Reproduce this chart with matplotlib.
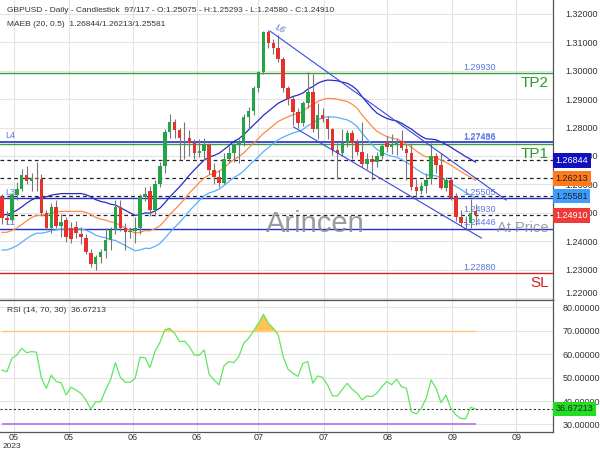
import numpy as np
import matplotlib
matplotlib.use("Agg")
import matplotlib.pyplot as plt

plt.rcParams['font.family'] = ['Liberation Sans', 'DejaVu Sans']

# GBPUSD daily bars, 1 May - 12 Sep 2023 (97 bars)
opens = [1.2555, 1.2482, 1.2476, 1.2562, 1.2585, 1.2632, 1.2612, 1.2622, 1.2618, 1.2500,
         1.2448, 1.2522, 1.2455, 1.2475, 1.2448, 1.2450, 1.2425, 1.2412, 1.2360, 1.2318,
         1.2345, 1.2365, 1.2405, 1.2440, 1.2520, 1.2448, 1.2432, 1.2436, 1.2445, 1.2555,
         1.2575, 1.2510, 1.2600, 1.2665, 1.2785, 1.2820, 1.2790, 1.2765, 1.2762, 1.2745,
         1.2712, 1.2718, 1.2740, 1.2650, 1.2625, 1.2605, 1.2690, 1.2712, 1.2738, 1.2748,
         1.2837, 1.2860, 1.2938, 1.2995, 1.3135, 1.3098, 1.3080, 1.3040, 1.2940, 1.2900,
         1.2855, 1.2815, 1.2885, 1.2925, 1.2795, 1.2845, 1.2830, 1.2795, 1.2720, 1.2712,
         1.2745, 1.2780, 1.2745, 1.2715, 1.2670, 1.2690, 1.2680, 1.2700, 1.2748, 1.2732,
         1.2740, 1.2752, 1.2725, 1.2712, 1.2590, 1.2578, 1.2594, 1.2620, 1.2700, 1.2668,
         1.2588, 1.2615, 1.2555, 1.2485, 1.2468, 1.2465, 1.25075]
highs = [1.2567, 1.2505, 1.2568, 1.2610, 1.2655, 1.2665, 1.2640, 1.2680, 1.2635, 1.2510,
         1.2535, 1.2545, 1.2495, 1.2485, 1.2468, 1.2470, 1.2450, 1.2425, 1.2372, 1.2350,
         1.2372, 1.2445, 1.2450, 1.2545, 1.2545, 1.2465, 1.2450, 1.2485, 1.2565, 1.2590,
         1.2595, 1.2615, 1.2680, 1.2795, 1.2848, 1.2830, 1.2800, 1.2820, 1.2790, 1.2760,
         1.2760, 1.2765, 1.2745, 1.2675, 1.2650, 1.2710, 1.2735, 1.2745, 1.2760, 1.2848,
         1.2872, 1.2947, 1.3000, 1.3140, 1.3144, 1.3110, 1.3125, 1.3050, 1.2945, 1.2910,
         1.2870, 1.2895, 1.2995, 1.2990, 1.2885, 1.2870, 1.2840, 1.2800, 1.2745, 1.2795,
         1.2790, 1.2790, 1.2760, 1.2818, 1.2710, 1.2705, 1.2715, 1.2745, 1.2770, 1.2776,
         1.2765, 1.2790, 1.2742, 1.2745, 1.2620, 1.2610, 1.2640, 1.2745, 1.2712, 1.2710,
         1.2625, 1.2625, 1.2570, 1.2510, 1.2490, 1.2548, 1.25293]
lows = [1.2462, 1.2460, 1.2470, 1.2545, 1.2575, 1.2600, 1.2575, 1.2575, 1.2490, 1.2440,
        1.2430, 1.2445, 1.2415, 1.2398, 1.2392, 1.2412, 1.2390, 1.2355, 1.2308, 1.2300,
        1.2325, 1.2340, 1.2370, 1.2425, 1.2435, 1.2370, 1.2410, 1.2395, 1.2425, 1.2540,
        1.2490, 1.2490, 1.2590, 1.2640, 1.2765, 1.2765, 1.2686, 1.2690, 1.2700, 1.2690,
        1.2698, 1.2690, 1.2635, 1.2600, 1.2590, 1.2600, 1.2680, 1.2680, 1.2675, 1.2735,
        1.2795, 1.2845, 1.2925, 1.2988, 1.3080, 1.3060, 1.3030, 1.2925, 1.2880, 1.2810,
        1.2797, 1.2805, 1.2870, 1.2783, 1.2760, 1.2820, 1.2758, 1.2703, 1.2620, 1.2700,
        1.2730, 1.2690, 1.2705, 1.2660, 1.2655, 1.2615, 1.2660, 1.2690, 1.2715, 1.2708,
        1.2705, 1.2720, 1.2615, 1.2580, 1.2548, 1.2565, 1.2570, 1.2600, 1.2640, 1.2585,
        1.2575, 1.2545, 1.2470, 1.2455, 1.2440, 1.2448, 1.24580]
closes = [1.2482, 1.2476, 1.2562, 1.2585, 1.2632, 1.2612, 1.2622, 1.2618, 1.2500, 1.2448,
          1.2522, 1.2455, 1.2468, 1.2415, 1.2408, 1.2428, 1.2415, 1.2362, 1.2320, 1.2345,
          1.2362, 1.2405, 1.2440, 1.2520, 1.2448, 1.2432, 1.2436, 1.2445, 1.2555, 1.2565,
          1.2510, 1.2600, 1.2665, 1.2785, 1.2820, 1.2790, 1.2765, 1.2762, 1.2745, 1.2712,
          1.2718, 1.2740, 1.2650, 1.2625, 1.2605, 1.2690, 1.2712, 1.2738, 1.2748, 1.2837,
          1.2860, 1.2938, 1.2995, 1.3135, 1.3098, 1.3080, 1.3040, 1.2940, 1.2900, 1.2855,
          1.2815, 1.2885, 1.2925, 1.2795, 1.2845, 1.2830, 1.2795, 1.2720, 1.2712, 1.2745,
          1.2780, 1.2745, 1.2715, 1.2670, 1.2690, 1.2680, 1.2700, 1.2735, 1.2732, 1.2742,
          1.2750, 1.2728, 1.2712, 1.2590, 1.2578, 1.2594, 1.2615, 1.2700, 1.2668, 1.2588,
          1.2615, 1.2552, 1.2485, 1.2463, 1.2463, 1.2498, 1.2491]
# closes before the first bar, needed for the 20-bar average
april_close = [1.2470, 1.2435, 1.2415, 1.2390, 1.2350, 1.2395, 1.2465, 1.2495, 1.2385, 1.2405,
               1.2400, 1.2415, 1.2415, 1.2415, 1.2425, 1.2405, 1.2445, 1.2470, 1.2545]

rsi = [53.2, 52.5, 58.2, 59.6, 62.5, 60.6, 61.1, 60.8, 49.7, 45.4,
       51.1, 48.3, 47.8, 42.6, 45.9, 44.7, 43.3, 40.5, 36.6, 39.7,
       39.7, 44.7, 49.0, 56.4, 50.1, 48.0, 48.0, 49.7, 58.7, 58.5,
       54.2, 61.1, 64.9, 70.3, 71.0, 68.9, 65.3, 65.6, 63.2, 59.6,
       59.6, 61.8, 51.4, 49.0, 46.9, 55.0, 56.8, 56.4, 58.9, 64.6,
       66.8, 69.9, 73.2, 77.0, 73.2, 71.0, 68.2, 58.9, 53.5, 51.8,
       50.5, 56.1, 56.8, 47.6, 50.7, 50.1, 46.9, 42.2, 42.2, 45.0,
       47.6, 45.0, 43.3, 40.5, 42.2, 41.9, 43.3, 46.1, 48.3, 47.0,
       49.3, 46.1, 45.4, 35.5, 34.5, 36.9, 41.2, 49.0, 45.4, 39.3,
       42.6, 36.9, 34.1, 32.6, 32.4, 37.3, 36.67213]

tick_pos = [2.4, 13.6, 26.5, 39.5, 52.0, 65.2, 78.1, 91.3, 104.3]
tick_lab = ['05', '05', '06', '06', '07', '07', '08', '09', '09']
price_ticks = [1.22, 1.23, 1.24, 1.25, 1.26, 1.27, 1.28, 1.29, 1.30, 1.31, 1.32]
rsi_ticks = [30, 40, 50, 60, 70, 80]

# levels drawn on the chart
tp2, tp1, sl = 1.2993, 1.27436, 1.2288
l4, l3, l1 = 1.27486, 1.25505, 1.24446
maeb_last = [1.26844, 1.26213, 1.25581]
last_close = 1.24910
rsi_last = 36.67213

# trend channel (bar index, price)
l6_x, l6_y = [54.3, 102.2], [1.3140, 1.2545]
low_x, low_y = [59.1, 97.2], [1.2802, 1.2411]

n = len(closes)
x = np.arange(n)
o, h, l, c = map(np.array, (opens, highs, lows, closes))

hist = np.array(april_close + closes)
ma = np.convolve(hist, np.ones(20) / 20, mode='valid')

fig = plt.figure(figsize=(6, 4.5), dpi=100)
ax = fig.add_axes([0, 150 / 450, 553 / 600, 300 / 450])
ax2 = fig.add_axes([0, 18 / 450, 553 / 600, 132 / 450], sharex=ax)

ax.set_xlim(-0.4, 111.7)
ax.set_ylim(1.2193, 1.3249)
ax2.set_ylim(26.8, 83.1)

# grid
for t in tick_pos:
    ax.axvline(t, color='#e4e4e4', lw=0.8, zorder=0)
    ax2.axvline(t, color='#e4e4e4', lw=0.8, zorder=0)
for p in price_ticks:
    ax.axhline(p, color='#e4e4e4', lw=0.8, zorder=0)
for r in rsi_ticks:
    ax2.axhline(r, color='#e4e4e4', lw=0.8, zorder=0)

# level lines
ax.axhline(tp2, color='#3a9e3a', lw=1.0, zorder=1)
ax.axhline(tp1, color='#3a9e3a', lw=1.0, zorder=1)
ax.axhline(l4, color='#2030c8', lw=1.2, zorder=1)
ax.axhline(l3, color='#2030c8', lw=1.0, zorder=1)
ax.axhline(l1, color='#2030c8', lw=1.0, zorder=1)
ax.axhline(sl, color='#d42020', lw=1.0, zorder=1)
for v in maeb_last + [last_close]:
    ax.axhline(v, color='#222222', lw=0.9, ls=(0, (3, 2.5)), zorder=2)

# envelope
ax.plot(x, ma * 1.005, color='#2a2ac4', lw=0.9, zorder=2)
ax.plot(x, ma, color='#ff8a45', lw=0.9, zorder=2)
ax.plot(x, ma * 0.995, color='#5aaeff', lw=0.9, zorder=2)

# candles
up = c >= o
col = np.where(up, '#22a447', '#e8302c')
ax.vlines(x, l, h, color='#777777', lw=0.8, zorder=3)
ax.bar(x, np.maximum(np.abs(c - o), 0.00012), bottom=np.minimum(o, c), width=0.72,
       color=col, linewidth=0, zorder=4)

# channel
ax.plot(l6_x, l6_y, color='#3a48e0', lw=0.8, zorder=5)
ax.plot(low_x, low_y, color='#3a48e0', lw=0.8, zorder=5)
ax.text(56.5, 1.3146, 'L6', color='#5a6ae0', fontsize=6.5, style='italic', rotation=-25,
        ha='center', va='center', zorder=6)

# texts on the chart
ax.text(63.5, 1.2461, 'Arincen', color='#8a8a8a', fontsize=21, ha='center', va='center',
        alpha=0.85, zorder=6)
ax.text(110.8, 1.2446, 'At Price', color='#8a8a8a', fontsize=10.5, ha='right', va='center',
        alpha=0.85, zorder=6)
ax.text(110.8, tp2 - 0.0012, 'TP2', color='#2c9a2c', fontsize=11, ha='right', va='top', zorder=6)
ax.text(110.8, tp1 - 0.0012, 'TP1', color='#2c9a2c', fontsize=11, ha='right', va='top', zorder=6)
ax.text(110.8, sl - 0.0012, 'SL', color='#d42020', fontsize=11, ha='right', va='top', zorder=6)
lvl_col = '#5a78e0'
for v, s in [(tp2, '1.29930'), (l4, '1.27486'), (tp1, '1.27436'), (l3, '1.25505'),
             (1.2493, '1.24930'), (l1, '1.24446'), (sl, '1.22880')]:
    ax.text(93.5, v + 0.0004, s, color=lvl_col, fontsize=6.5, va='bottom', ha='left', zorder=6)
for v, s in [(l4, 'L4'), (l3, 'L3'), (l1, 'L1')]:
    ax.text(0.6, v + 0.0006, s, color=lvl_col, fontsize=6.5, va='bottom', ha='left', zorder=1)

# price labels on the right
ax.yaxis.tick_right()
ax.set_yticks(price_ticks, ['%.5f' % p for p in price_ticks])
ax.tick_params(axis='y', length=0, pad=9, labelsize=6.5, labelcolor='#333333')
ax.get_yticklabels()[0].set_va('bottom')
ax.tick_params(axis='x', length=0, labelbottom=False)
for v, fc, tc in [(maeb_last[0], '#1010c0', 'white'), (maeb_last[1], '#ff7a1a', '#222222'),
                  (maeb_last[2], '#3f9cff', '#222222'), (last_close, '#f03a3a', 'white')]:
    ax.text(1.004, v, '%.5f' % v, transform=ax.get_yaxis_transform(), fontsize=6.5,
            color=tc, ha='left', va='center', clip_on=False, zorder=10,
            bbox=dict(boxstyle='square,pad=0.3', fc=fc, ec='none'))

# RSI panel
rs = np.array(rsi)
ax2.fill_between(x, rs, 70, where=rs > 70, interpolate=True, color='#ffc44f', lw=0, zorder=2)
ax2.hlines(70, 0, n - 1, color='#ffc878', lw=1.0, zorder=2)
ax2.hlines(30, 0, n - 1, color='#b07ef0', lw=1.3, zorder=2)
ax2.axhline(rsi_last, color='#333333', lw=0.8, ls=(0, (2, 2)), zorder=2)
ax2.plot(x, rs, color='#5fe65f', lw=0.9, zorder=3)
ax2.yaxis.tick_right()
ax2.set_yticks(rsi_ticks, ['%.5f' % r for r in rsi_ticks])
ax2.tick_params(axis='y', length=0, pad=7, labelsize=6.5, labelcolor='#333333')
ax2.set_xticks(tick_pos, tick_lab)
ax2.tick_params(axis='x', length=0, pad=1, labelsize=6.5, labelcolor='#333333')
ax2.text(1.004, rsi_last, '%.5f' % rsi_last, transform=ax2.get_yaxis_transform(), fontsize=6.5,
         color='#222222', ha='left', va='center', clip_on=False, zorder=10,
         bbox=dict(boxstyle='square,pad=0.3', fc='#22dd22', ec='none'))

for a in (ax, ax2):
    a.spines['left'].set_visible(False)
    for s in ('top', 'bottom', 'right'):
        a.spines[s].set_color('#555555')
        a.spines[s].set_linewidth(0.9)
ax.spines['top'].set_visible(False)

# headers
fig.text(7 / 600, 1 - 10 / 450,
         'GBPUSD - Daily - Candlestick  97/117 - O:1.25075 - H:1.25293 - L:1.24580 - C:1.24910',
         fontsize=6, color='#333333', va='center')
fig.text(7 / 600, 1 - 25 / 450, 'MAEB (20, 0.5)  1.26844/1.26213/1.25581',
         fontsize=6, color='#333333', va='center')
fig.text(7 / 600, 1 - 311 / 450, 'RSI (14, 70, 30)  36.67213',
         fontsize=6, color='#333333', va='center')
fig.text(3 / 600, 0.2 / 450, '2023', fontsize=6, color='#333333', va='bottom')

fig.savefig('out.png', dpi=100)
